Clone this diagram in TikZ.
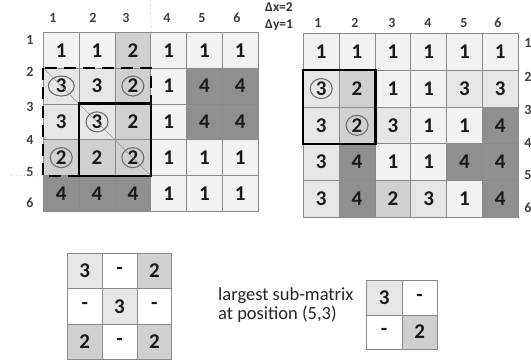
\documentclass[tikz,border=0pt]{standalone}
\usepackage{fontspec}
\setmainfont{Carlito}
\usetikzlibrary{shapes.geometric}
\definecolor{cv1}{HTML}{F2F2F2}
\definecolor{cv3}{HTML}{E6E6E6}
\definecolor{cv2}{HTML}{D0D0D0}
\definecolor{cv4}{HTML}{8F8F8F}
\definecolor{cvd}{HTML}{FFFFFF}
\definecolor{gridgray}{HTML}{8A8A8A}
\definecolor{circgray}{HTML}{6E6E6E}
\tikzset{
  cellbox/.style={draw=gridgray, line width=0.7pt, anchor=north west, inner sep=0pt,
    font=\bfseries\fontsize{21}{21}\selectfont, text=black!90},
  idxlabel/.style={font=\bfseries\fontsize{14}{14}\selectfont, text=black!75, inner sep=0pt},
  ring/.style={ellipse, draw=circgray, line width=1.1pt, inner sep=0pt, minimum width=22pt, minimum height=20pt},
  thickbox/.style={draw=black, line width=2.6pt},
  dashbox/.style={draw=black, line width=2.6pt, dash pattern=on 12pt off 7pt},
  guide/.style={draw=gray!70, line width=0.6pt, dotted},
  diag/.style={draw=gray!80, line width=0.6pt},
  deltalabel/.style={font=\bfseries\fontsize{13.5}{13.5}\selectfont, text=black!80, anchor=west, inner sep=0pt}
}
\begin{document}
\begin{tikzpicture}[x=1pt,y=-1pt]
\useasboundingbox (0,0) rectangle (531,360);
% left grid
\foreach \v [count=\i from 0] in {1,1,2,1,1,1, 3,3,2,1,4,4, 3,3,2,1,4,4, 2,2,2,1,1,1, 4,4,4,1,1,1}{
  \pgfmathtruncatemacro\rr{int(\i/6)}
  \pgfmathtruncatemacro\cc{mod(\i,6)}
  \node[cellbox, fill=cv\v, minimum width=35.8pt, minimum height=35.8pt] (L-\rr-\cc) at ({43+35.8*\cc},{32+35.8*\rr}) {\v};
}
% right grid
\foreach \v [count=\i from 0] in {1,1,1,1,1,1, 3,2,1,1,3,3, 3,2,3,1,1,4, 3,4,1,1,4,4, 3,4,2,3,1,4}{
  \pgfmathtruncatemacro\rr{int(\i/6)}
  \pgfmathtruncatemacro\cc{mod(\i,6)}
  \node[cellbox, fill=cv\v, minimum width=35.8pt, minimum height=36.8pt] (R-\rr-\cc) at ({303+35.8*\cc},{33+36.8*\rr}) {\v};
}
% bottom 3x3 grid
\foreach \v/\f [count=\i from 0] in {3/3,-/d,2/2, -/d,3/3,-/d, 2/2,-/d,2/2}{
  \pgfmathtruncatemacro\rr{int(\i/3)}
  \pgfmathtruncatemacro\cc{mod(\i,3)}
  \node[cellbox, fill=cv\f, minimum width=34.8pt, minimum height=35.3pt] (B-\rr-\cc) at ({67+34.8*\cc},{253+35.3*\rr}) {\v};
}
% 2x2 grid
\foreach \v/\f [count=\i from 0] in {3/3,-/d, -/d,2/2}{
  \pgfmathtruncatemacro\rr{int(\i/2)}
  \pgfmathtruncatemacro\cc{mod(\i,2)}
  \node[cellbox, fill=cv\f, minimum width=35.5pt, minimum height=34.5pt] (S-\rr-\cc) at ({366+35.5*\cc},{280+34.5*\rr}) {\v};
}
% column labels
\foreach \x [count=\k] in {53,93,126,167,202,237}{
  \node[idxlabel] (lc\k) at (\x,18) {\k};
}
\foreach \y [count=\k] in {40,72,107,140,172,203}{
  \node[idxlabel] (lr\k) at (30,\y) {\k};
}
\foreach \x [count=\k] in {318,355,392,428,464,498}{
  \node[idxlabel] (rc\k) at (\x,23) {\k};
}
\foreach \y [count=\k] in {43,77,110,143,175,208}{
  \node[idxlabel] (rr\k) at (528,\y) {\k};
}
% guides
\coordinate (gtop) at (150.4,0);
\coordinate (gleft) at (10,175.2);
\draw[guide] (L-0-2.north east) -- (gtop);
\draw[guide] (L-3-0.south west) -- (gleft);
% diagonal and rings (left)
\draw[diag] (L-1-0.north west) -- (L-3-2.south east);
\node[ring, minimum width=26pt] (e1) at (L-1-0) {};
\node[ring] (e2) at (L-1-2) {};
\node[ring] (e3) at (L-2-1) {};
\node[ring] (e4) at (L-3-0) {};
\node[ring] (e5) at (L-3-2) {};
\draw[dashbox] (L-1-0.north west) rectangle (L-3-2.south east);
\draw[thickbox] (L-2-1.north west) rectangle (L-3-2.south east);
% right grid marks
\node[ring] (e6) at (R-1-0) {};
\node[ring] (e7) at (R-2-1) {};
\draw[thickbox] (R-1-0.north west) rectangle (R-2-1.south east);
% delta labels
\node[deltalabel] (dx) at (265,7) {Δx=2};
\node[deltalabel] (dy) at (265,25) {Δy=1};
% caption
\node[anchor=west, align=left, inner sep=0pt, font=\fontsize{18.5}{19}\selectfont, text=black!85] (cap) at (218,305) {largest sub-matrix\\at position (5,3)};
\end{tikzpicture}
\end{document}
